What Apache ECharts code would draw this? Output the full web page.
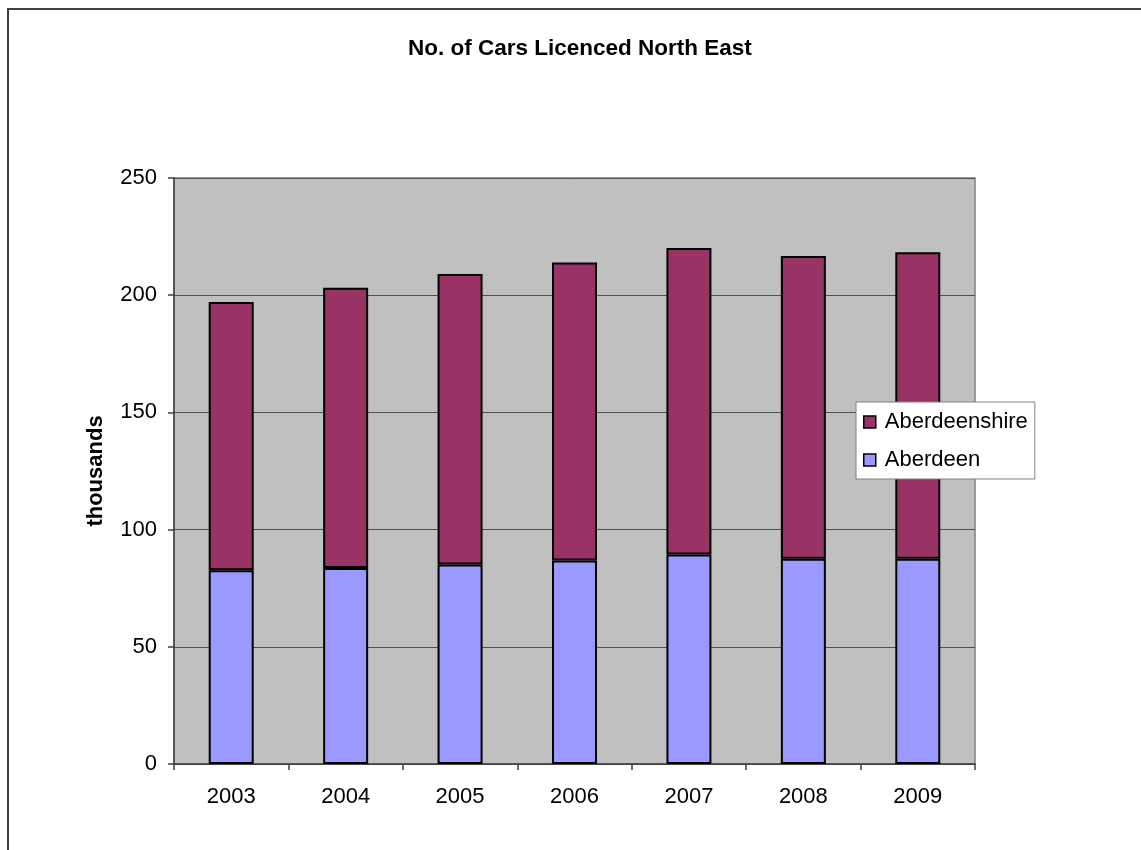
<!DOCTYPE html>
<html>
<head>
<meta charset="utf-8">
<script src="https://cdn.jsdelivr.net/npm/echarts/dist/echarts.min.js"></script>
<style>
html,body{margin:0;padding:0;background:#fff;}
#chart{width:1141px;height:850px;}
</style>
</head>
<body>
<div id="chart"></div>
<script>
var categories = ['2003','2004','2005','2006','2007','2008','2009'];
var aberdeen = [82.7, 83.6, 85.1, 86.8, 89.4, 87.6, 87.6];
var aberdeenshire = [114.4, 119.6, 123.9, 127.2, 130.7, 129.1, 130.7];
var titleText = 'No. of Cars Licenced North East';
var yAxisName = 'thousands';

var FONT = '"Liberation Sans", Arial, sans-serif';
var chart = echarts.init(document.getElementById('chart'), null, {renderer:'canvas'});
chart.setOption({
  animation: false,
  backgroundColor: '#ffffff',
  textStyle: {fontFamily: FONT},
  graphic: [{
    type: 'rect', silent: true, z: -1,
    shape: {x: 8, y: 9, width: 1300, height: 1000},
    style: {fill: 'none', stroke: '#404040', lineWidth: 2}
  }],
  title: {
    text: titleText,
    left: 403, top: 32,
    textStyle: {fontFamily: FONT, fontSize: 22.5, fontWeight: 'bold', color: '#000'}
  },
  legend: {
    data: ['Aberdeenshire', 'Aberdeen'],
    orient: 'vertical',
    left: 856, top: 402,
    padding: [9, 7, 8, 7],
    itemGap: 16,
    itemWidth: 12, itemHeight: 12,
    backgroundColor: '#ffffff',
    borderColor: '#808080', borderWidth: 1,
    icon: 'rect',
    itemStyle: {borderColor: '#000', borderWidth: 1.5},
    textStyle: {fontFamily: FONT, fontSize: 22, color: '#000', padding: [0,0,0,4]}
  },
  grid: {
    left: 174, right: 166, top: 178, bottom: 86,
    show: true, backgroundColor: '#C0C0C0', borderColor: '#808080', borderWidth: 1.5,
    containLabel: false
  },
  xAxis: {
    type: 'category',
    data: categories,
    boundaryGap: true,
    axisLine: {show: true, lineStyle: {color: '#404040', width: 1.5}},
    axisTick: {show: true, inside: false, length: 6, alignWithLabel: false, lineStyle: {color: '#404040', width: 1.5}},
    axisLabel: {fontFamily: FONT, fontSize: 22, color: '#000', margin: 22},
    splitLine: {show: false}
  },
  yAxis: {
    type: 'value',
    min: 0, max: 250, interval: 50,
    name: yAxisName,
    nameLocation: 'middle',
    nameGap: 67,
    nameTextStyle: {fontFamily: FONT, fontSize: 22, fontWeight: 'bold', color: '#000'},
    axisLine: {show: true, lineStyle: {color: '#404040', width: 1.5}},
    axisTick: {show: true, inside: false, length: 6, lineStyle: {color: '#404040', width: 1.5}},
    axisLabel: {fontFamily: FONT, fontSize: 22, color: '#000', margin: 17},
    splitLine: {show: true, lineStyle: {color: '#505050', width: 1}}
  },
  series: [
    {
      name: 'Aberdeen', type: 'bar', stack: 'total',
      data: aberdeen, barWidth: 45,
      itemStyle: {color: '#9999FF', borderColor: '#000', borderWidth: 2}
    },
    {
      name: 'Aberdeenshire', type: 'bar', stack: 'total',
      data: aberdeenshire, barWidth: 45,
      itemStyle: {color: '#993366', borderColor: '#000', borderWidth: 2}
    }
  ]
});
</script>
</body>
</html>
